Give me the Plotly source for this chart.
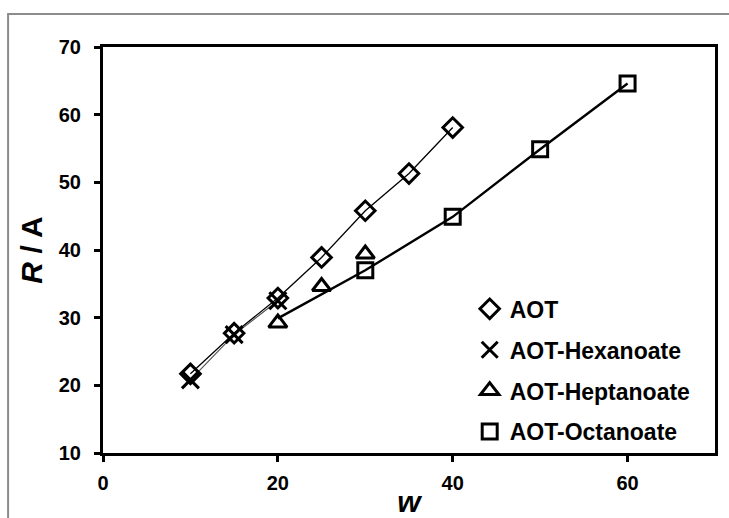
import plotly.graph_objects as go

# Data
aot_w = [10, 15, 20, 25, 30, 35, 40]
aot_r = [21.7, 27.7, 32.9, 38.9, 45.8, 51.3, 58.1]

hex_w = [10, 15, 20]
hex_r = [20.8, 27.5, 32.5]

hep_w = [20, 25, 30]
hep_r = [29.2, 34.6, 39.4]

oct_w = [30, 40, 50, 60]
oct_r = [37.0, 44.9, 54.9, 64.6]

# thick guide line drawn through the heptanoate / octanoate region
fit_w = [20, 30, 40, 50, 60]
fit_r = [29.9, 37.0, 44.9, 54.9, 64.6]

FONT = "Liberation Sans, Arial, sans-serif"
BLACK = "#000000"

fig = go.Figure()

# lines (no legend)
fig.add_trace(go.Scatter(x=aot_w, y=aot_r, mode="lines",
                         line=dict(color=BLACK, width=1.3),
                         showlegend=False, hoverinfo="skip"))
fig.add_trace(go.Scatter(x=hex_w, y=hex_r, mode="lines",
                         line=dict(color="#555555", width=1.2),
                         showlegend=False, hoverinfo="skip"))
fig.add_trace(go.Scatter(x=fit_w, y=fit_r, mode="lines",
                         line=dict(color=BLACK, width=2.4),
                         showlegend=False, hoverinfo="skip"))

# markers
fig.add_trace(go.Scatter(x=aot_w, y=aot_r, mode="markers", name="AOT", legendgroup="a",
                         marker=dict(symbol="diamond-open", size=15,
                                     color=BLACK, line=dict(width=3, color=BLACK))))
fig.add_trace(go.Scatter(x=hex_w, y=hex_r, mode="markers", name="AOT-Hexanoate", legendgroup="b",
                         marker=dict(symbol="x-thin-open", size=17,
                                     color=BLACK, line=dict(width=3, color=BLACK))))
fig.add_trace(go.Scatter(x=hep_w, y=hep_r, mode="markers", name="AOT-Heptanoate", legendgroup="c",
                         marker=dict(symbol="triangle-up-open", size=16,
                                     color=BLACK, line=dict(width=3, color=BLACK))))
fig.add_trace(go.Scatter(x=oct_w, y=oct_r, mode="markers", name="AOT-Octanoate", legendgroup="d",
                         marker=dict(symbol="square-open", size=15,
                                     color=BLACK, line=dict(width=3, color=BLACK))))

axis_common = dict(
    showline=True, linecolor=BLACK, linewidth=3, mirror=True,
    ticks="outside", ticklen=6, tickwidth=3, tickcolor=BLACK,
    showgrid=False, zeroline=False, automargin=False,
    tickfont=dict(family=FONT, size=20, color=BLACK, weight=700),
)

fig.update_layout(
    width=729, height=518,
    margin=dict(l=103, r=14, t=47, b=65),
    paper_bgcolor="white", plot_bgcolor="white",
    font=dict(family=FONT, color=BLACK),
    xaxis=dict(range=[0, 70], tick0=0, dtick=20, ticklabelstandoff=4,
               title=dict(text="<b><i>w</i></b>", standoff=2,
                          font=dict(family=FONT, size=30, color=BLACK)),
               **axis_common),
    yaxis=dict(range=[10, 70], tick0=10, dtick=10, ticklabelstandoff=9,
               title=dict(text="<b><i>R</i> / A</b>", standoff=8,
                          font=dict(family=FONT, size=30, color=BLACK)),
               **axis_common),
    legend=dict(x=(470 - 103) / 612.5, y=0.408, xanchor="left", yanchor="top",
                bgcolor="rgba(0,0,0,0)", borderwidth=0, itemwidth=30,
                font=dict(family=FONT, size=23, color=BLACK, weight=700),
                tracegroupgap=8),
    shapes=[dict(type="rect", xref="paper", yref="paper",
                 x0=-95/612.5, x1=1.2, y0=-0.5, y1=1 + 33/406,
                 line=dict(color="#8c8c8c", width=2), layer="below")],
)

fig.write_html("out.html")
